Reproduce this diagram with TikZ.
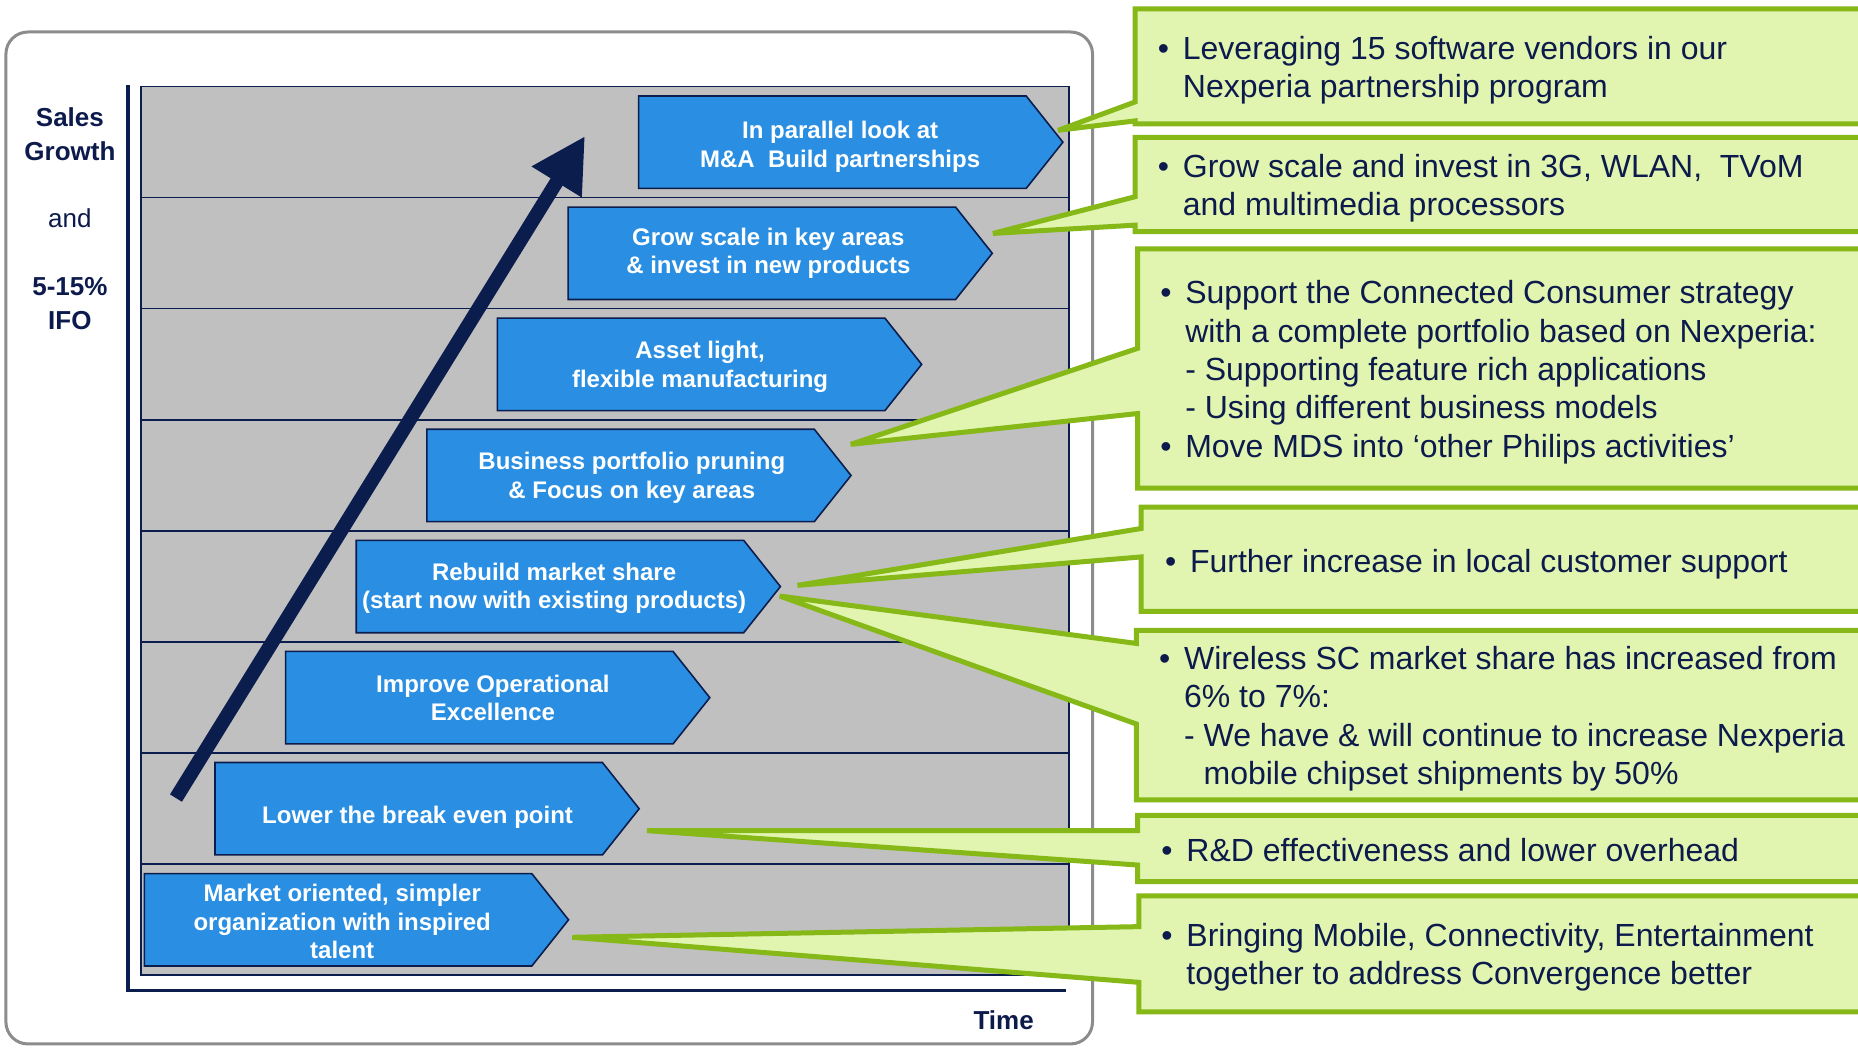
\documentclass[tikz,border=0pt]{standalone}
\usepackage{fontspec}
\setmainfont{Liberation Sans}
\usetikzlibrary{arrows.meta}
\definecolor{chevblue}{HTML}{2A8FE2}
\definecolor{navy}{HTML}{0B1D4D}
\definecolor{gridgray}{HTML}{C0C0C0}
\definecolor{callgreen}{HTML}{86B817}
\definecolor{callfill}{HTML}{E1F5B1}
\definecolor{framegray}{HTML}{8C8C8C}
\definecolor{txtnavy}{HTML}{0D1B4C}
% #1 name, #2 left, #3 top, #4 text, #5 text x offset, #6 text y offset
\newcommand{\mychev}[6]{%
  \draw[chevshape] (#2,#3) -- ++(327,0) -- ++(31,39) -- ++(-31,39) -- ++(-327,0) -- cycle;
  \node[chevtext] (#1) at ({#2+169+#5},{#3+39+#6}) {#4};
}
\newcommand{\mycallout}[6]{%
  \filldraw[calloutshape] (#1,#2) -- (1620,#2) -- (1620,#3) -- (#1,#3) -- (#1,#5) -- (#6) -- (#1,#4) -- cycle;
}
\newcommand{\bul}{\makebox[25pt][l]{•}}
\newcommand{\ind}{\hspace*{25pt}}
\begin{document}
\begin{tikzpicture}[x=1.18495pt,y=-1.18495pt,
  chevshape/.style={fill=chevblue, draw=navy, line width=1.6pt, line join=miter},
  chevtext/.style={text=white, font=\bfseries\fontsize{24pt}{28.4pt}\selectfont, align=center, inner sep=0pt},
  calloutshape/.style={fill=callfill, draw=callgreen, line width=5pt, line join=miter, miter limit=3},
  calltext/.style={text=txtnavy, font=\fontsize{32pt}{38.5pt}\selectfont, inner sep=0pt, anchor=base west},
  axislabel/.style={text=txtnavy, font=\bfseries\fontsize{26pt}{34.4pt}\selectfont, align=center, inner sep=0pt},
  plainlabel/.style={text=txtnavy, font=\fontsize{26pt}{34.4pt}\selectfont, inner sep=0pt},
]
\clip (0,0) rectangle (1568,884);
\fill[white] (0,0) rectangle (1568,884);
% outer frame
\draw[framegray, line width=3pt, rounded corners=22pt] (5,27) rectangle (922,881);
% chart area
\fill[gridgray] (119,73) rectangle (902,823);
\foreach \k in {1,...,7} \draw[navy, line width=1.5pt] (119,{73+93.75*\k}) -- (902,{73+93.75*\k});
\draw[navy, line width=1.5pt] (119,73) rectangle (902,823);
% axes
\draw[navy, line width=3.5pt] (108,72) -- (108,836) -- (900,836);
% axis labels
\node[axislabel] (sales) at (59,113.5) {Sales\\Growth};
\node[plainlabel] (andlbl) at (59,184) {and};
\node[axislabel] (ifo) at (59,256) {5-15\%\\IFO};
\node[axislabel] (time) at (847,861) {Time};
% chevrons
\mychev{ch1}{539}{81}{In parallel look at\\M\&A~ Build partnerships}{1}{4}
\mychev{ch2}{479.4}{174.75}{Grow scale in key areas\\\& invest in new products}{0}{0}
\mychev{ch3}{419.8}{268.5}{Asset light,\\flexible manufacturing}{2}{2}
\mychev{ch4}{360.2}{362.25}{Business portfolio pruning\\\& Focus on key areas}{4}{2}
\mychev{ch5}{300.6}{456}{Rebuild market share\\(start now with existing products)}{-2}{1.5}
\mychev{ch6}{241}{549.75}{Improve Operational\\Excellence}{6}{0}
\mychev{ch7}{181.4}{643.5}{Lower the break even point}{2}{7}
\mychev{ch8}{121.8}{737.25}{Market oriented, simpler\\organization with inspired\\talent}{-2}{1.5}
% growth arrow
\coordinate (arrtail) at (148.5,673.5);
\coordinate (arrtip) at (493.7,114.8);
\draw[navy, line width=14pt, -{Triangle[length=54pt,width=55pt]}] (arrtail) -- (arrtip);
% callout tips
\coordinate (t1) at (893,110);
\coordinate (t2) at (838,197);
\coordinate (t3) at (718,375);
\coordinate (t4) at (673,494);
\coordinate (t5) at (658,503);
\coordinate (t6) at (546,701);
\coordinate (t7) at (483,791);
% callouts
\mycallout{958}{7.5}{104.5}{86}{102}{t1}
\mycallout{958}{116}{195.5}{166}{190}{t2}
\mycallout{960}{210}{412}{294}{349}{t3}
\mycallout{963}{428}{516}{446}{470}{t4}
\mycallout{959}{532}{675}{543}{611}{t5}
\mycallout{960}{688}{744}{701}{730}{t6}
\mycallout{961}{756}{854}{782}{829}{t7}
% callout texts
\node[calltext] (c1a) at (977,50) {\bul Leveraging 15 software vendors in our};
\node[calltext] (c1b) at (977,82) {\ind Nexperia partnership program};
\node[calltext] (c2a) at (977,150) {\bul Grow scale and invest in 3G, WLAN,~ TVoM};
\node[calltext] (c2b) at (977,182) {\ind and multimedia processors};
\node[calltext] (c3a) at (979,256.5) {\bul Support the Connected Consumer strategy};
\node[calltext] (c3b) at (979,289) {\ind with a complete portfolio based on Nexperia:};
\node[calltext] (c3c) at (979,321) {\ind - Supporting feature rich applications};
\node[calltext] (c3d) at (979,353.5) {\ind - Using different business models};
\node[calltext] (c3e) at (979,386) {\bul Move MDS into ‘other Philips activities’};
\node[calltext] (c4a) at (983,483) {\bul Further increase in local customer support};
\node[calltext] (c5a) at (978,565) {\bul Wireless SC market share has increased from};
\node[calltext] (c5b) at (978,597) {\ind 6\% to 7\%:};
\node[calltext] (c5c) at (978,630) {\ind - We have \& will continue to increase Nexperia};
\node[calltext] (c5d) at (978,662) {\ind\hphantom{- }mobile chipset shipments by 50\%};
\node[calltext] (c6a) at (980,727) {\bul R\&D effectiveness and lower overhead};
\node[calltext] (c7a) at (980,799) {\bul Bringing Mobile, Connectivity, Entertainment};
\node[calltext] (c7b) at (980,831) {\ind together to address Convergence better};
\end{tikzpicture}
\end{document}
